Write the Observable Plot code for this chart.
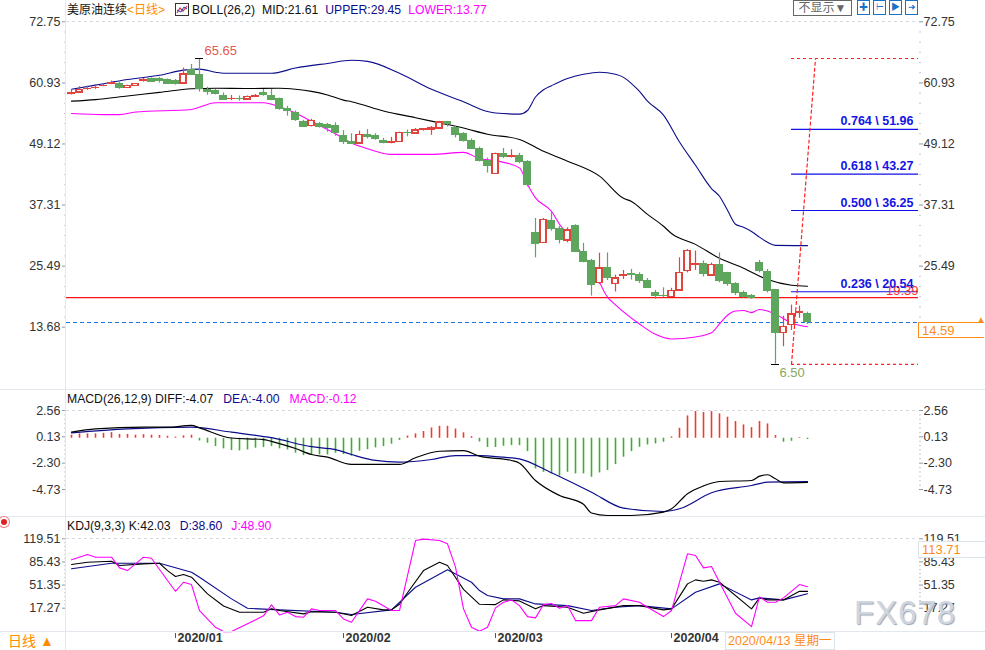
<!DOCTYPE html>
<html><head><meta charset="utf-8">
<script src="https://cdn.jsdelivr.net/npm/d3@7"></script>
<script src="https://cdn.jsdelivr.net/npm/@observablehq/plot@0.6"></script>
<style>
body{margin:0;background:#fff;}
#wrap{position:relative;width:985px;height:650px;overflow:hidden;background:#fff;font-family:"Liberation Sans",Arial,"Noto Sans CJK SC",sans-serif;}
.abs{position:absolute;white-space:nowrap;line-height:16px;}
.row span{margin-right:7px;}
#wrap svg{position:absolute;left:0;}
</style></head><body><div id="wrap"></div>
<script>
// ---------------- DATA ----------------
const opens  = [58.8,59.1,59.7,59.9,60.3,60.7,60.75,60.0,60.4,61.3,61.6,61.6,61.4,61.3,60.8,63.45,62.4,59.65,59.3,58.4,57.8,57.9,57.7,58.3,58.95,58.4,57.9,55.9,55.1,53.4,52.6,52.9,52.8,52.6,50.75,49.5,49.2,50.9,50.6,49.65,49.3,49.55,51.25,51.15,51.85,51.9,52.1,53.3,52.25,51.1,49.65,48.1,45.9,43.35,47.25,46.7,46.75,45.6,31.9,30.0,34.2,32.7,30.45,33.35,28.2,26.45,22.25,25.05,22.1,23.6,23.9,23.75,22.7,20.35,19.75,19.55,20.8,24.5,25.75,25.95,23.7,25.7,24.2,21.95,20.35,19.7,26.1,24.35,20.8,12.6,14.1,16.4,16.15];
const highs  = [59.5,60.2,60.3,60.6,60.8,61.3,61.1,60.5,60.8,61.8,61.9,62.0,61.7,61.6,63.8,64.5,65.65,60.1,59.65,59.0,58.5,58.4,58.4,58.7,59.65,59.65,58.0,56.4,55.5,53.7,53.9,53.3,53.1,53.2,51.7,51.1,51.6,51.9,51.1,50.2,50.4,51.4,51.8,52.1,52.1,52.5,53.5,53.5,52.55,51.3,50.1,48.5,46.4,47.35,48.25,48.0,47.3,45.9,34.7,34.7,35.9,33.2,32.9,33.5,29.9,26.8,28.0,28.05,23.75,24.65,24.85,24.2,23.1,20.8,21.3,21.2,27.1,28.7,28.4,26.5,26.1,28.05,24.3,22.3,20.65,20.0,26.6,24.85,21.0,15.8,17.95,17.75,16.6];
const lows   = [58.6,59.1,59.5,59.7,60.2,60.6,59.7,59.9,60.4,61.1,61.1,60.9,60.6,60.5,60.75,62.4,59.15,58.55,58.6,57.6,57.5,57.4,57.6,58.1,58.35,57.5,55.65,54.5,53.5,52.3,52.4,52.2,51.4,50.6,49.0,49.0,49.15,50.1,49.85,49.15,49.15,49.45,50.5,51.1,51.6,50.8,52.05,52.4,50.3,49.5,48.05,45.65,43.5,43.2,46.3,46.4,45.3,40.8,27.1,29.9,32.25,29.8,30.0,28.1,26.15,19.7,21.95,22.7,20.5,22.9,22.8,22.15,21.2,19.05,19.4,19.5,20.65,24.2,24.65,23.4,23.55,22.25,21.6,19.8,19.25,19.05,24.2,20.3,6.5,9.9,13.05,15.4,14.2];
const closes = [59.0,59.5,59.8,60.0,60.4,60.8,59.9,60.4,60.75,61.4,61.2,61.3,60.8,60.8,62.55,62.55,59.8,59.2,58.8,57.7,57.85,57.8,58.2,58.4,58.5,57.7,55.8,55.5,53.7,52.4,53.6,52.4,52.2,51.3,49.5,49.15,50.8,50.5,50.0,49.35,49.4,51.2,51.15,51.7,51.95,52.25,53.3,52.9,50.95,49.65,48.2,45.8,44.85,47.15,46.65,46.8,45.6,41.15,29.8,34.4,32.7,30.5,32.4,28.2,26.35,21.8,25.05,23.25,23.1,23.7,23.8,22.6,21.3,19.75,19.65,20.65,24.2,28.4,25.85,23.9,25.7,22.6,21.95,20.35,19.6,19.25,24.5,20.65,12.6,13.7,16.15,16.5,14.59];

// Bollinger (26,2): [candle index, value]
const bollUpper = [[0,59.7],[3,60.5],[7,61.6],[11,62.4],[14,63.4],[16,63.6],[18,63.0],[19,62.8],[25,62.8],[28,63.8],[32,64.7],[35,65.3],[37,65.1],[41,62.8],[45,59.7],[49,57.3],[52,55.4],[53,55.1],[56,54.9],[57,55.6],[58,58.2],[59,59.6],[60,60.4],[62,61.8],[64,62.6],[66,63.0],[68,62.6],[69,62.0],[70,60.8],[71,59.3],[72,57.4],[74,54.7],[76,49.5],[78,45.0],[80,40.5],[81,39.0],[82,36.3],[83,33.6],[84,33.0],[85,32.2],[86,31.1],[87,30.1],[88,29.5],[92,29.45]];
const bollMid   = [[0,57.4],[3,57.7],[7,58.4],[11,59.1],[15,59.8],[18,59.9],[22,59.85],[26,59.9],[28,59.7],[30,59.3],[32,58.6],[34,57.6],[35,57.3],[39,55.5],[43,54.2],[46,53.2],[49,52.2],[52,51.0],[56,50.0],[59,47.7],[62,45.8],[66,42.9],[69,38.6],[70,38.0],[72,35.5],[74,33.2],[75,31.8],[78,29.7],[81,27.0],[84,25.1],[87,22.9],[90,21.8],[92,21.61]];
const bollLower = [[0,55.0],[4,54.8],[6,54.8],[8,55.3],[15,55.8],[18,57.1],[24,57.1],[25,56.8],[28,55.1],[30,53.5],[33,51.1],[35,49.3],[37,48.2],[40,47.1],[45,47.1],[49,47.5],[51,46.3],[53,45.9],[56,44.5],[57,41.3],[58,38.7],[60,36.1],[61,33.6],[62,31.7],[64,27.5],[65,25.5],[67,19.5],[68,18.0],[71,14.3],[73,12.3],[75,11.4],[78,11.8],[80,12.6],[81,14.3],[82,16.0],[83,16.8],[84,16.9],[85,16.5],[86,17.1],[88,16.2],[90,14.5],[92,13.77]];

// MACD (26,12,9)
const macdHist = [0.28,0.40,0.40,0.40,0.45,0.52,0.35,0.35,0.28,0.33,0.28,0.25,0.18,0.10,0.22,0.28,
 -0.25,-0.46,-0.77,-0.98,-1.14,-1.17,-1.08,-0.92,-0.86,-0.77,-0.98,-1.08,-1.38,-1.6,-1.54,-1.54,-1.54,-1.38,-1.5,-1.66,-1.2,-1.05,-0.89,-0.77,-0.55,-0.2,0.2,0.4,0.62,0.95,1.1,1.1,0.85,0.5,0.15,-0.35,-0.85,-0.85,
 -0.74,-0.68,-0.68,-1.23,-2.83,-3.14,-3.29,-3.5,-3.14,-3.29,-3.29,-3.6,-3.2,-2.98,-2.43,-1.75,-1.23,-0.83,-0.62,-0.52,-0.37,0.12,0.92,2.06,2.46,2.37,2.46,2.25,1.94,1.54,1.23,0.98,1.54,1.32,0.25,-0.37,-0.28,0.06,-0.12];
const macdDiff = [[0,0.56],[3,0.87],[9,1.02],[12,1.02],[15,1.18],[16,0.96],[20,0.02],[24,-0.12],[26,-0.5],[28,-0.95],[30,-1.5],[32,-1.75],[35,-2.42],[41,-2.42],[43,-1.8],[46,-1.2],[49,-1.15],[51,-1.65],[55,-2.05],[56,-2.3],[58,-3.9],[61,-5.28],[64,-6.1],[65,-6.9],[67,-7.13],[70,-7.13],[74,-6.82],[75,-6.51],[77,-5.12],[79,-4.4],[81,-3.99],[85,-3.9],[86,-3.5],[87,-3.37],[88,-3.74],[89,-4.11],[92,-4.07]];
const macdDea  = [[0,0.5],[7,0.87],[15,1.02],[20,0.56],[25,0.05],[30,-0.78],[33,-1.05],[35,-1.5],[38,-2.05],[41,-2.2],[45,-1.96],[48,-1.6],[51,-1.6],[54,-1.75],[56,-1.9],[60,-3.19],[65,-4.98],[69,-6.45],[74,-6.76],[76,-6.51],[80,-5.03],[85,-4.36],[87,-4.05],[92,-4.0]];

// KDJ (9,3,3)
const kdjK = [[0,81.6],[2,85],[5,86.5],[6,80.1],[9,82.6],[11,83.5],[12,72.7],[13,63.9],[14,66.9],[15,62.9],[17,38.4],[19,20.5],[21,11.3],[24,11.3],[25,16.3],[26,13.8],[29,8.9],[30,12],[33,11.3],[35,6.4],[37,18.6],[39,14.8],[40,14.8],[41,23],[42,40],[44,72.7],[46,85],[47,80.1],[49,45],[51,23],[53,22.6],[54,29.5],[56,28],[58,16.3],[59,21.1],[62,18.6],[64,9.8],[66,14.8],[69,21.1],[71,21.1],[74,14.8],[75,16.3],[77,53.1],[78,59],[79,56.9],[80,59],[81,55.5],[85,16.3],[86,32.5],[87,29.5],[89,29.5],[91,42.2],[92,42.03]];
const kdjD = [[0,75.3],[5,83.5],[11,83.5],[15,70.2],[16,62.9],[20,31],[22,17.1],[26,14.8],[33,11.3],[35,7.9],[40,14.8],[43,48.1],[47,73.8],[50,55.5],[51,43.3],[52,35.9],[54,31],[56,31],[58,23.6],[62,21.1],[65,13.8],[68,18.6],[71,21.1],[75,16.3],[78,40.7],[81,53.1],[85,29.5],[86,32.5],[89,29.5],[92,38.6]];
const kdjJ = [[0,88.5],[2,96.3],[3,92.4],[5,92.4],[6,76.7],[7,72.7],[9,92.4],[10,90.9],[12,58],[13,42.2],[14,55.5],[15,52.1],[16,13.8],[18,-10.9],[19,-17.2],[20,-17.2],[22,-5.8],[24,6],[25,22.2],[26,7.4],[27,11.3],[28,4.9],[29,4],[30,16.3],[31,13.8],[33,13.8],[34,1.5],[35,-3.5],[37,31],[38,27.5],[40,13.8],[41,13.8],[43,117],[44,119],[46,117],[47,112.1],[48,77.7],[49,16.3],[50,-10.9],[51,-16.8],[52,-10.9],[53,17.8],[54,26],[55,29.5],[56,21.1],[57,4.9],[58,3],[59,22.6],[60,24.1],[61,17.1],[62,21.1],[63,-1],[65,-1],[66,18.6],[68,21.1],[69,31],[71,26],[72,18.6],[74,4.9],[75,13.8],[77,97.4],[78,95],[79,76.7],[80,78.6],[81,55.5],[83,9.8],[85,-9.9],[86,33.9],[87,26],[88,26],[89,32.5],[91,52.1],[92,48.9]];

// axes / labels
const priceTicks = [72.75,60.93,49.12,37.31,25.49,13.68];
const macdTicks  = [2.56,0.13,-2.30,-4.73];
const kdjTicks   = [119.51,85.43,51.35,17.27];
const monthLabels = ["2020/01","2020/02","2020/03","2020/04"];
const monthStartIdx = [13,34,53,75];
// drawing tools
const fibRatios = [0.764,0.618,0.500,0.236];
const fibValues = [51.96,43.27,36.25,20.54];
const fibAnchorIdx = [90,93];  // start / top of the measuring line
const supportLevel = [19.39];
const cursorDate = "2020/04/13 星期一";
const cursorKdj = "113.71";

// ---------------- RENDER ----------------
const W = 985;
const FONT = '"Liberation Sans", Arial, "Noto Sans CJK SC", sans-serif';
const RED = "#e0443c", GREEN = "#5ea65e", NAVY = "#0c0c8c", MAG = "#ff00ff";
const CRISP = {shapeRendering:"crispEdges"};
const xDomain = [-0.625, 105.875];   // 8px per candle
const wrap = document.getElementById("wrap");
const candles = opens.map((o,i)=>({i, o, h:highs[i], l:lows[i], c:closes[i]}));
const up = candles.filter(d=>d.c>=d.o), down = candles.filter(d=>d.c<d.o);
const hiIdx = d3.maxIndex(highs), loIdx = d3.minIndex(lows);
const lastClose = closes[closes.length-1];
const minorOf = t => { const out=[]; for(let k=0;k<t.length-1;k++){const s=(t[k+1]-t[k])/6; for(let j=1;j<6;j++) out.push(t[k]+s*j);} return out; };
const fmt = d=>d.toFixed(2);
const style = {fontFamily: FONT, fontSize:"12.5px", color:"#333", background:"transparent", overflow:"visible"};
const axes = ticks => [
  Plot.axisY(minorOf(ticks), {anchor:"left", tickSize:2, tickFormat:()=>"", stroke:"#c5ccd6", label:null}),
  Plot.axisY(minorOf(ticks), {anchor:"right", tickSize:2, tickFormat:()=>"", stroke:"#c5ccd6", label:null}),
  Plot.axisY(ticks, {anchor:"left", tickSize:4, tickPadding:2, tickFormat:fmt, stroke:"#8899aa", fill:"#333", label:null}),
  Plot.axisY(ticks, {anchor:"right", tickSize:4, tickPadding:1, tickFormat:fmt, stroke:"#8899aa", fill:"#333", label:null})
];
const fib = fibRatios.map((r,k)=>({r, v:fibValues[k]}));

const pricePlot = Plot.plot({
  width: W, height: 390, marginLeft: 66, marginRight: 67, marginTop: 21.3, marginBottom: 63.3,
  x: {domain: xDomain, axis: null},
  y: {domain: [13.68, 72.75], label: null},
  style,
  marks: [
    Plot.ruleY([priceTicks[0]], {stroke:"#d5dae2", strokeDasharray:"3,3", ...CRISP}),
    ...axes(priceTicks),
    Plot.ruleY(supportLevel, {stroke:"#ff1010", strokeWidth:1.2}),
    Plot.ruleY([lastClose], {stroke:"#1a78e0", strokeDasharray:"4,3", ...CRISP}),
    Plot.line(bollUpper, {x:d=>d[0], y:d=>d[1], stroke:NAVY, strokeWidth:1.1, curve:"monotone-x"}),
    Plot.line(bollMid,   {x:d=>d[0], y:d=>d[1], stroke:"#000", strokeWidth:1.1, curve:"monotone-x"}),
    Plot.line(bollLower, {x:d=>d[0], y:d=>d[1], stroke:MAG, strokeWidth:1.1, curve:"monotone-x"}),
    Plot.ruleX(down, {x:"i", y1:"l", y2:"h", stroke:GREEN, strokeWidth:1.2}),
    Plot.ruleX(up,   {x:"i", y1:"l", y2:"h", stroke:RED, strokeWidth:1.2}),
    Plot.rect(down, {x1:d=>d.i-0.4, x2:d=>d.i+0.4, y1:"o", y2:"c", fill:GREEN, stroke:GREEN, ...CRISP}),
    Plot.rect(up,   {x1:d=>d.i-0.38, x2:d=>d.i+0.38, y1:"o", y2:"c", fill:"white", stroke:RED, strokeWidth:1.3, ...CRISP}),
    // high / low markers
    Plot.ruleY([candles[hiIdx]], {y:"h", x1:d=>d.i-0.55, x2:d=>d.i+0.55, stroke:"#000", ...CRISP}),
    Plot.ruleY([candles[loIdx]], {y:"l", x1:d=>d.i-0.55, x2:d=>d.i+0.55, stroke:"#000", ...CRISP}),
    Plot.text([candles[hiIdx]], {x:"i", y:"h", text:d=>fmt(d.h), textAnchor:"start", dx:5, dy:-8, fill:"#e05a50", fontSize:13}),
    Plot.text([candles[loIdx]], {x:"i", y:"l", text:d=>fmt(d.l), textAnchor:"start", dx:4, dy:9, fill:"#88a860", fontSize:13}),
    // fibonacci tool
    Plot.ruleY(fib, {y:"v", x1:()=>fibAnchorIdx[0], x2:()=>xDomain[1], stroke:"#1010e8", strokeWidth:1.2}),
    Plot.ruleY([highs[hiIdx], lows[loIdx]], {x1:()=>fibAnchorIdx[0], x2:()=>xDomain[1], stroke:"#ff2020", strokeDasharray:"3,3", strokeWidth:1.2}),
    Plot.line([[fibAnchorIdx[0], lows[loIdx]],[fibAnchorIdx[1], highs[hiIdx]]], {x:d=>d[0], y:d=>d[1], stroke:"#ff2020", strokeDasharray:"3,3", strokeWidth:1.2}),
    Plot.text(supportLevel, {x:()=>xDomain[1], y:d=>d, text:d=>fmt(d), textAnchor:"end", dx:0, dy:-7, fill:"#ff2a2a", fontSize:13}),
    Plot.text(fib, {x:()=>xDomain[1], y:"v", text:d=>`${d.r.toFixed(3)} \\ ${fmt(d.v)}`, textAnchor:"end", dx:-5, dy:-8, fill:"#1414e6", fontWeight:"bold", fontSize:12.5})
  ]
});
pricePlot.style.top = "0px";
wrap.appendChild(pricePlot);

const histUp = macdHist.map((v,i)=>({i,v})).filter(d=>d.v>=0);
const histDn = macdHist.map((v,i)=>({i,v})).filter(d=>d.v<0);
const macdPlot = Plot.plot({
  width: W, height: 128, marginLeft: 66, marginRight: 67, marginTop: 20, marginBottom: 29,
  x: {domain: xDomain, axis: null},
  y: {domain: [-4.73, 2.56], label: null},
  style,
  marks: [
    Plot.ruleY([macdTicks[0]], {stroke:"#d5dae2", strokeDasharray:"3,3", ...CRISP}),
    ...axes(macdTicks),
    Plot.ruleX(histUp, {x:"i", y1:0, y2:"v", stroke:"#ee3a30", strokeWidth:1.6}),
    Plot.ruleX(histDn, {x:"i", y1:0, y2:"v", stroke:"#3fae30", strokeWidth:1.6}),
    Plot.line(macdDea,  {x:d=>d[0], y:d=>d[1], stroke:NAVY, strokeWidth:1.2, curve:"monotone-x"}),
    Plot.line(macdDiff, {x:d=>d[0], y:d=>d[1], stroke:"#000", strokeWidth:1.2, curve:"monotone-x"})
  ]
});
macdPlot.style.top = "390px";
wrap.appendChild(macdPlot);

const kdjPlot = Plot.plot({
  width: W, height: 132, marginLeft: 66, marginRight: 67, marginTop: 20.3, marginBottom: 42.3,
  x: {domain: xDomain, axis: null},
  y: {domain: [17.27, 119.51], label: null},
  style,
  marks: [
    Plot.ruleY([kdjTicks[0]], {stroke:"#d5dae2", strokeDasharray:"3,3", ...CRISP}),
    ...axes(kdjTicks),
    Plot.line(kdjD, {x:d=>d[0], y:d=>d[1], stroke:NAVY, strokeWidth:1.1}),
    Plot.line(kdjK, {x:d=>d[0], y:d=>d[1], stroke:"#000", strokeWidth:1.1}),
    Plot.line(kdjJ, {x:d=>d[0], y:d=>d[1], stroke:MAG, strokeWidth:1.1})
  ]
});
kdjPlot.style.top = "518px";
wrap.appendChild(kdjPlot);

const axisPlot = Plot.plot({
  width: W, height: 20, marginLeft: 66, marginRight: 67, marginTop: 3, marginBottom: 12,
  x: {domain: xDomain, axis: null},
  style,
  marks: [
    Plot.tickX(monthStartIdx, {x:d=>d, stroke:"#555"}),
    Plot.text(monthStartIdx, {x:d=>d, text:(d,k)=>monthLabels[k], frameAnchor:"bottom", textAnchor:"start", dx:2, dy:3, fontWeight:"bold", fontSize:12.5, fill:"#333"})
  ]
});
axisPlot.style.top = "630px";
wrap.appendChild(axisPlot);

// -------- chrome / overlays --------
function el(html, css, cls){ const d=document.createElement("div"); d.className="abs"+(cls?" "+cls:""); d.innerHTML=html; Object.assign(d.style, css); wrap.appendChild(d); return d; }
el("", {left:"65px", top:"0px", width:"1px", height:"650px", background:"#e3e8ee"});
[389,516,631].forEach(y=>el("", {left:"0px", top:y+"px", width:"985px", height:"1px", background:"#e3e8ee"}));

el('<span style="color:#111;margin:0">美原油连续</span><span style="color:#ff8c00;margin:0">&lt;日线&gt;</span>', {left:"67px", top:"2px", fontSize:"12px"});
el('<svg width="14" height="13"><rect x="0.5" y="0.5" width="13" height="12" fill="#fff" stroke="#333"/><polyline points="2,10 5,5 8,8 12,3" fill="none" stroke="#e03030" stroke-width="1.2"/><polyline points="2,7 6,9 9,4 12,6" fill="none" stroke="#1a3ad0" stroke-width="1"/></svg>', {left:"175px", top:"3px", lineHeight:"13px"});
el(`<span style="color:#111">BOLL(26,2)</span><span style="color:#111">MID:21.61</span><span style="color:${NAVY}">UPPER:29.45</span><span style="color:${MAG}">LOWER:13.77</span>`, {left:"192px", top:"2px", fontSize:"12.2px"}, "row");
el(`<span style="color:#111">MACD(26,12,9) DIFF:-4.07</span><span style="color:${NAVY};margin-left:3px">DEA:-4.00</span><span style="color:${MAG};margin-left:3px">MACD:-0.12</span>`, {left:"67px", top:"391px", fontSize:"12.2px"}, "row");
el(`<span style="color:#111">KDJ(9,3,3) K:42.03</span><span style="color:${NAVY};margin-left:2px">D:38.60</span><span style="color:${MAG};margin-left:2px">J:48.90</span>`, {left:"67px", top:"518px", fontSize:"12.2px"}, "row");

// top-right buttons
el('不显示▼', {left:"793px", top:"0px", width:"57px", height:"14px", lineHeight:"14px", border:"1px solid #666", fontSize:"12px", color:"#666", textAlign:"center"});
["✚","⊢","▶","➜"].forEach((g,k)=>el(g, {left:(857+k*16)+"px", top:"0px", width:"11px", height:"13px", lineHeight:"13px", border:"1px solid #1a72c8", fontSize:"9px", color:"#1a72c8", textAlign:"center"}));

// current price box
const yp = pricePlot.scale("y").apply(lastClose);
el(fmt(lastClose), {left:"918px", top:(yp+0.5)+"px", width:"66px", height:"16px", border:"1px solid #ff8c1a", borderRight:"none", background:"#fff", color:"#ff8c1a", fontSize:"13px", paddingLeft:"3px", boxSizing:"border-box"});
el('▲', {left:"977px", top:(yp-10)+"px", fontSize:"8px", color:"#ff8c1a"});
// KDJ cursor readout
el(cursorKdj, {left:"918px", top:"541px", width:"67px", height:"17px", border:"1px solid #dde3ea", borderRight:"none", background:"#fff", color:"#ff8c1a", fontSize:"13px", paddingLeft:"3px", boxSizing:"border-box"});
// cursor date box
el(cursorDate, {left:"725px", top:"632px", width:"110px", height:"18px", border:"1px solid #dde3ea", background:"#fff", color:"#ff8c1a", fontSize:"12.5px", paddingLeft:"2px", boxSizing:"border-box"});
// bottom-left period switch
el('日线 ▲', {left:"8px", top:"633px", fontSize:"14px", color:"#ff8c00"});
el('', {left:"1px", top:"519px", width:"6px", height:"6px", borderRadius:"50%", background:"#e02020", boxShadow:"0 0 0 2px #fff, 0 0 0 3px #f08080"});
// watermark
el('FX678', {left:"854px", top:"596px", fontSize:"33px", lineHeight:"34px", color:"#cfd6df", letterSpacing:"1px", textShadow:"1px 1px 1px #9aa6b6"});
</script></body></html>
